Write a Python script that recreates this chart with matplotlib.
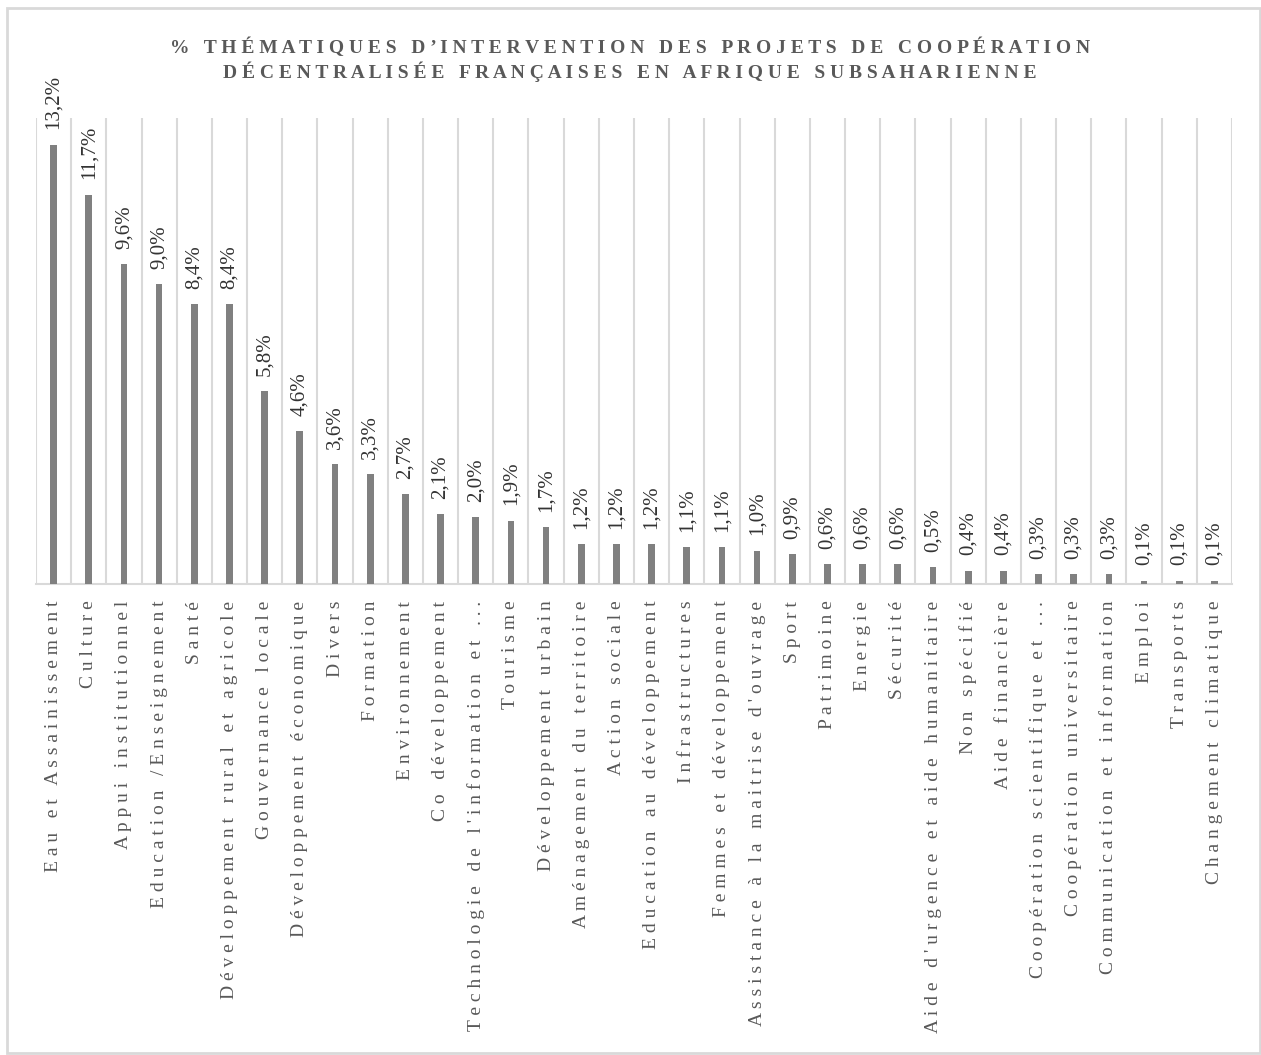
#!/usr/bin/env python3
"""Thematiques d'intervention - cooperation decentralisee, Afrique subsaharienne."""
import matplotlib
matplotlib.use('Agg')
import matplotlib.pyplot as plt
from matplotlib.patches import Rectangle

categories = [
    "Eau et Assainissement", "Culture", "Appui institutionnel",
    "Education /Enseignement", "Santé", "Développement rural et agricole",
    "Gouvernance locale", "Développement économique", "Divers", "Formation",
    "Environnement", "Co développement", "Technologie de l'information et ...",
    "Tourisme", "Développement urbain", "Aménagement du territoire",
    "Action sociale", "Education au développement", "Infrastructures",
    "Femmes et développement", "Assistance à la maitrise d'ouvrage", "Sport",
    "Patrimoine", "Energie", "Sécurité", "Aide d'urgence et aide humanitaire",
    "Non spécifié", "Aide financière", "Coopération scientifique et ...",
    "Coopération universitaire", "Communication et information", "Emploi",
    "Transports", "Changement climatique",
]
values = [13.2, 11.7, 9.6, 9.0, 8.4, 8.4, 5.8, 4.6, 3.6, 3.3, 2.7, 2.1, 2.0,
          1.9, 1.7, 1.2, 1.2, 1.2, 1.1, 1.1, 1.0, 0.9, 0.6, 0.6, 0.6, 0.5,
          0.4, 0.4, 0.3, 0.3, 0.3, 0.1, 0.1, 0.1]
title = ("% THÉMATIQUES D’INTERVENTION DES PROJETS DE COOPÉRATION\n"
         "DÉCENTRALISÉE FRANÇAISES EN AFRIQUE SUBSAHARIENNE")

FONT = 'Liberation Serif'
GRID = '#d9d9d9'


def spaced(s):
    # fake letter spacing
    return '\n'.join(' '.join(line) for line in s.split('\n'))


fig = plt.figure(figsize=(12.61, 10.55), dpi=100)
ax = fig.add_axes([36 / 1261, 1 - 584 / 1055, (1232 - 36) / 1261, (584 - 118) / 1055])

x = list(range(len(categories)))
bars = ax.bar(x, values, width=0.19, color='#808080', zorder=3)
ax.bar_label(bars, labels=[f"{v:.1f}%".replace('.', ',') for v in values],
             padding=11, rotation=90, fontsize=15, family=FONT, color='#333333')

ax.set_xlim(-0.5, len(categories) - 0.5)
ax.set_ylim(0, 14)
ax.set_xticks(x)
ax.set_xticklabels([spaced(c) for c in categories], rotation=90, ha='center', va='top',
                   family=FONT, fontsize=14, color='#595959')
ax.set_xticks([i - 0.5 for i in range(len(categories) + 1)], minor=True)
ax.grid(True, which='minor', axis='x', color=GRID, linewidth=1.5, zorder=0)
ax.tick_params(axis='x', which='both', length=0, pad=12)
ax.set_yticks([])
for side in ('left', 'right', 'top'):
    ax.spines[side].set_visible(False)
ax.spines['bottom'].set_color(GRID)
ax.spines['bottom'].set_linewidth(1.5)

fig.text(630 / 1261, 1 - 60 / 1055, spaced(title), ha='center', va='center',
         family=FONT, fontweight='bold', fontsize=14, color='#595959', linespacing=1.3)

fig.patches.append(Rectangle((7 / 1261, 1 - 1053 / 1055), 1253 / 1261, 1045 / 1055,
                             transform=fig.transFigure, fill=False,
                             edgecolor=GRID, linewidth=2))

fig.savefig('out.png', dpi=100)
